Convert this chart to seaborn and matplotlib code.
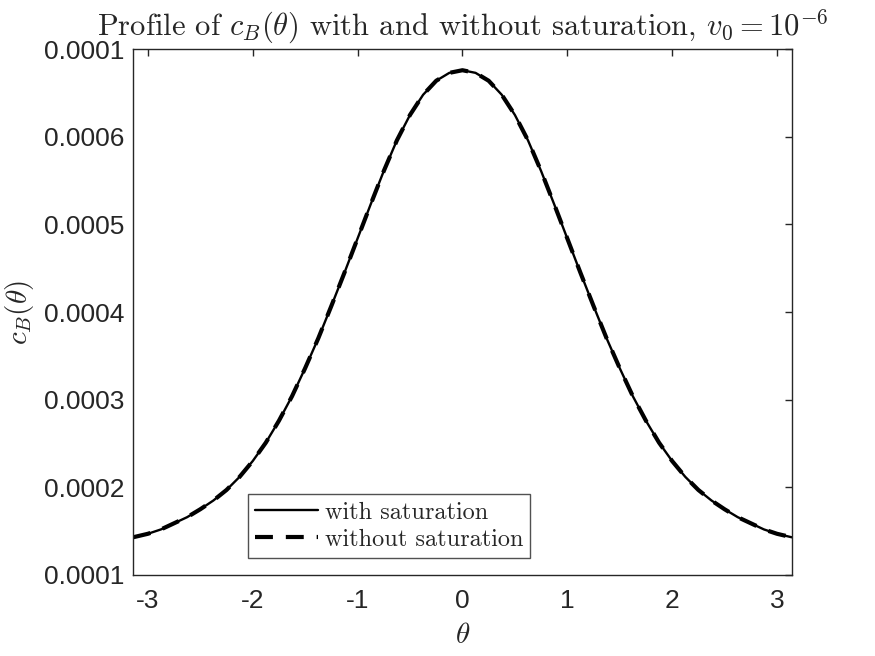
import numpy as np
import pandas as pd
import seaborn as sns
import matplotlib.pyplot as plt

# theta sample points and c_B values (curve is symmetric)
theta_half = [-3.1416, -3.0, -2.875, -2.75, -2.625, -2.5, -2.375, -2.25, -2.125,
              -2.0, -1.875, -1.75, -1.625, -1.5, -1.375, -1.25, -1.125, -1.0,
              -0.875, -0.75, -0.625, -0.5, -0.375, -0.25, -0.125, 0.0]
cb_half = [0.000143, 0.000147, 0.000152, 0.000159, 0.000166, 0.000175, 0.000185,
           0.000197, 0.000212, 0.000230, 0.000251, 0.000276, 0.000304, 0.000336,
           0.000370, 0.000407, 0.000445, 0.000484, 0.000523, 0.000561, 0.000596,
           0.000625, 0.000648, 0.000664, 0.000673, 0.000676]

theta = theta_half + [-t for t in theta_half[-2::-1]]
cb_with_sat = cb_half + cb_half[-2::-1]
cb_without_sat = cb_half + cb_half[-2::-1]

xticks = [-3, -2, -1, 0, 1, 2, 3]
xtick_labels = ['-3', '-2', '-1', '0', '1', '2', '3']
yticks = [0.0001, 0.0002, 0.0003, 0.0004, 0.0005, 0.0006, 0.0007]
ytick_labels = ['0.0001', '0.0002', '0.0003', '0.0004', '0.0005', '0.0006', '0.0001']

sns.set_style("white")
plt.rcParams['font.family'] = ['Liberation Sans', 'DejaVu Sans']
plt.rcParams['mathtext.fontset'] = 'cm'

df = pd.DataFrame({'theta': theta, 'with': cb_with_sat, 'without': cb_without_sat})

fig = plt.figure(figsize=(8.75, 6.56), dpi=100)
ax = fig.add_axes([0.152, 0.1235, 0.753, 0.8015])

sns.lineplot(data=df, x='theta', y='with', ax=ax, color='black', linewidth=1.7,
             label='with saturation', sort=False)
sns.lineplot(data=df, x='theta', y='without', ax=ax, color='black', linewidth=3.0,
             linestyle=(0, (4.3, 3.1)), label='without saturation', sort=False)

ax.set_xlim(-np.pi, np.pi)
ax.set_ylim(0.0001, 0.0007)
ax.set_xticks(xticks)
ax.set_xticklabels(xtick_labels)
ax.set_yticks(yticks)
ax.set_yticklabels(ytick_labels)

dark = '#262626'
for sp in ax.spines.values():
    sp.set_visible(True)
    sp.set_color(dark)
    sp.set_linewidth(1.0)
ax.tick_params(direction='in', length=5, width=1, colors=dark, labelsize=19,
               top=True, right=True)
ax.tick_params(axis='x', pad=10)
ax.tick_params(axis='y', pad=6)
for lab in ax.get_xticklabels() + ax.get_yticklabels():
    lab.set_color(dark)

ax.set_xlabel(r'$\theta$', fontsize=21, color=dark, labelpad=6)
ax.set_ylabel(r'$c_B(\theta)$', fontsize=21, color=dark, labelpad=6)
ax.set_title(r'Profile of $c_B(\theta)$ with and without saturation, $v_0 = 10^{-6}$',
             fontsize=22, family='cmr10', pad=10)

leg = ax.legend(loc='lower left', bbox_to_anchor=(0.1745, 0.032),
                prop={'family': 'cmr10', 'size': 17.5}, frameon=True, fancybox=False,
                handlelength=2.6, handletextpad=0.25, borderpad=0.3, labelspacing=0.2,
                borderaxespad=0)
leg.get_frame().set_edgecolor(dark)
leg.get_frame().set_linewidth(1.0)

fig.savefig('out.png', dpi=100)
